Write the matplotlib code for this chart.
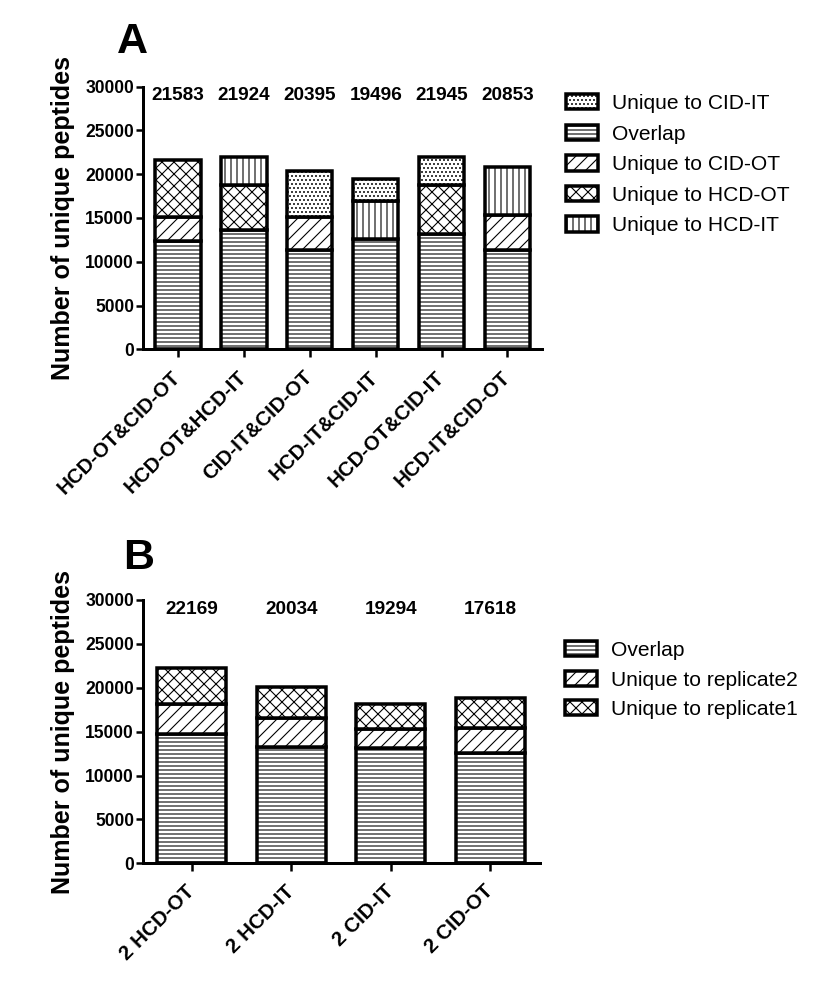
import numpy as np
import matplotlib
matplotlib.use("Agg")
import matplotlib.pyplot as plt
from matplotlib.patches import Patch

plt.rcParams['font.family'] = ['Liberation Sans', 'DejaVu Sans']
plt.rcParams['hatch.linewidth'] = 1.1

# ---------------- data, panel A ----------------
pairs_a = ['HCD-OT&CID-OT', 'HCD-OT&HCD-IT', 'CID-IT&CID-OT',
           'HCD-IT&CID-IT', 'HCD-OT&CID-IT', 'HCD-IT&CID-OT']
totals_a = [21583, 21924, 20395, 19496, 21945, 20853]
overlap_a = [12374, 13672, 11394, 12647, 13137, 11314]
cid_ot_a = [2734, 0, 3714, 0, 0, 3988]
hcd_ot_a = [6475, 5048, 0, 0, 5583, 0]
hcd_it_a = [0, 3204, 0, 4284, 0, 5551]
cid_it_a = [0, 0, 5287, 2565, 3225, 0]

# ---------------- data, panel B ----------------
reps_b = ['2 HCD-OT', '2 HCD-IT', '2 CID-IT', '2 CID-OT']
totals_b = [22169, 20034, 19294, 17618]
overlap_b = [14698, 13285, 13103, 12601]
rep2_b = [3452, 3235, 2164, 2779]
rep1_b = [4137, 3601, 2883, 3420]

W, H, DPI = 819, 982, 72
fig = plt.figure(figsize=(W / DPI, H / DPI), dpi=DPI)

bar_kw = dict(width=0.69, color='white', edgecolor='black', linewidth=3.5)
leg_kw = dict(loc='upper left', frameon=False, fontsize=21, borderpad=0,
              borderaxespad=0, handlelength=1.5, handleheight=0.75, handletextpad=0.7)


def style_axis(ax, xlabels, xlim):
	ax.set_ylim(0, 30000)
	ax.set_yticks(np.arange(0, 30001, 5000))
	ax.set_xlim(*xlim)
	ax.set_xticks(np.arange(len(xlabels)))
	ax.set_xticklabels(xlabels, rotation=45, ha='right', va='center',
	                   rotation_mode='anchor', fontsize=20.5, fontweight='bold')
	for lab in ax.get_yticklabels():
		lab.set_fontweight('bold')
		lab.set_fontsize(17.5)
	ax.spines['top'].set_visible(False)
	ax.spines['right'].set_visible(False)
	ax.spines['left'].set_linewidth(3)
	ax.spines['bottom'].set_linewidth(3)
	ax.tick_params(axis='y', direction='out', length=7, width=2.5, pad=2)
	ax.tick_params(axis='x', direction='out', length=8, width=2.5, pad=17)


# ---------------- panel A ----------------
axA = fig.add_axes([143 / W, 1 - 349.3 / H, 398.7 / W, 262.6 / H])
x = np.arange(len(pairs_a))
segs_a = [(overlap_a, '---', 'Overlap'),
          (cid_ot_a, '//', 'Unique to CID-OT'),
          (hcd_ot_a, 'xx', 'Unique to HCD-OT'),
          (hcd_it_a, '||', 'Unique to HCD-IT'),
          (cid_it_a, '...', 'Unique to CID-IT')]
bottom = np.zeros(len(x))
for vals, hatch, name in segs_a:
	vals = np.array(vals, dtype=float)
	mask = vals > 0
	axA.bar(x[mask], vals[mask], bottom=bottom[mask], hatch=hatch, **bar_kw)
	bottom += vals
for xi, t in zip(x, totals_a):
	axA.text(xi, 29000, str(t), ha='center', va='center', fontsize=19, fontweight='bold')
style_axis(axA, pairs_a, (-0.53, 5.52))

hatch_of = {name: hatch for _, hatch, name in segs_a}
order_a = ['Unique to CID-IT', 'Overlap', 'Unique to CID-OT', 'Unique to HCD-OT', 'Unique to HCD-IT']
handles_a = [Patch(facecolor='white', edgecolor='black', linewidth=3.5, hatch=hatch_of[n], label=n)
             for n in order_a]
axA.legend(handles=handles_a, bbox_to_anchor=(566 / W, 1 - 94 / H),
           bbox_transform=fig.transFigure, labelspacing=0.55, **leg_kw)
fig.text(132 / W, 1 - 42 / H, 'A', fontsize=43, fontweight='bold', ha='center', va='center')
fig.text(63 / W, 1 - 217.5 / H, 'Number of unique peptides', rotation=90, fontsize=25,
         fontweight='bold', ha='center', va='center')

# ---------------- panel B ----------------
axB = fig.add_axes([143 / W, 1 - 863.3 / H, 397 / W, 263.3 / H])
xb = np.arange(len(reps_b))
segs_b = [(overlap_b, '---', 'Overlap'),
          (rep2_b, '//', 'Unique to replicate2'),
          (rep1_b, 'xx', 'Unique to replicate1')]
bottom = np.zeros(len(xb))
for vals, hatch, name in segs_b:
	axB.bar(xb, vals, bottom=bottom, hatch=hatch, label=name, **bar_kw)
	bottom += np.array(vals, dtype=float)
for xi, t in zip(xb, totals_b):
	axB.text(xi, 28900, str(t), ha='center', va='center', fontsize=19, fontweight='bold')
style_axis(axB, reps_b, (-0.49, 3.5))
axB.legend(bbox_to_anchor=(565 / W, 1 - 641 / H),
           bbox_transform=fig.transFigure, labelspacing=0.5, **leg_kw)
fig.text(139 / W, 1 - 558 / H, 'B', fontsize=43, fontweight='bold', ha='center', va='center')
fig.text(63 / W, 1 - 731.5 / H, 'Number of unique peptides', rotation=90, fontsize=25,
         fontweight='bold', ha='center', va='center')

fig.savefig('out.png', dpi=DPI, facecolor='white')
